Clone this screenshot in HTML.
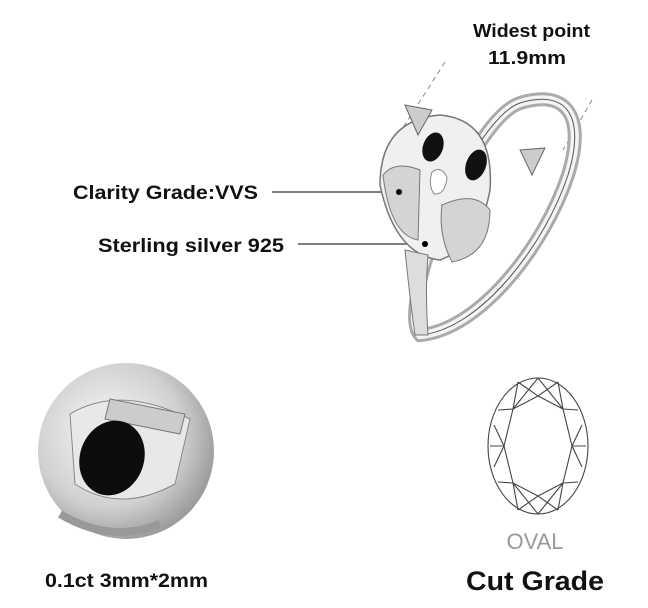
<!DOCTYPE html>
<html><head><style>
body{margin:0;width:648px;height:603px;background:#fff;overflow:hidden;font-family:"Liberation Sans",sans-serif}
</style></head><body>
<svg width="648" height="603" viewBox="0 0 648 603" xmlns="http://www.w3.org/2000/svg">
<defs>
<radialGradient id="g1" cx="0.4" cy="0.4" r="0.7"><stop offset="0" stop-color="#fafafa"/><stop offset="0.6" stop-color="#d0d0d0"/><stop offset="1" stop-color="#8a8a8a"/></radialGradient>
</defs>
<g font-family="Liberation Sans, sans-serif" font-weight="bold" fill="#111">
<text x="473" y="37" font-size="18.5" textLength="117" lengthAdjust="spacingAndGlyphs">Widest point</text>
<text x="488" y="64" font-size="18.5" textLength="78" lengthAdjust="spacingAndGlyphs">11.9mm</text>
<text x="73" y="199" font-size="19" textLength="185" lengthAdjust="spacingAndGlyphs">Clarity Grade:VVS</text>
<text x="98" y="252" font-size="19" textLength="186" lengthAdjust="spacingAndGlyphs">Sterling silver 925</text>
<text x="45" y="587" font-size="19" textLength="163" lengthAdjust="spacingAndGlyphs">0.1ct 3mm*2mm</text>
<text x="466" y="590" font-size="27" textLength="138" lengthAdjust="spacingAndGlyphs">Cut Grade</text>
</g>
<text x="535" y="549" font-size="22" fill="#999" text-anchor="middle" font-family="Liberation Sans, sans-serif">OVAL</text>
<line x1="272" y1="192" x2="398" y2="192" stroke="#333" stroke-width="1.2"/>
<line x1="298" y1="244" x2="425" y2="244" stroke="#333" stroke-width="1.2"/>
<line x1="445" y1="62" x2="392" y2="145" stroke="#888" stroke-dasharray="5,4"/>
<line x1="592" y1="100" x2="563" y2="150" stroke="#888" stroke-dasharray="5,4"/>
<path d="M420 335 C395 310 470 120 520 103 C570 88 585 120 568 175 C545 245 480 330 420 335 Z" fill="none" stroke="#aaa" stroke-width="14"/>
<path d="M420 335 C395 310 470 120 520 103 C570 88 585 120 568 175 C545 245 480 330 420 335 Z" fill="none" stroke="#f4f4f4" stroke-width="8"/>
<path d="M420 335 C395 310 470 120 520 103 C570 88 585 120 568 175 C545 245 480 330 420 335 Z" fill="none" stroke="#555" stroke-width="1"/>
<path d="M380 185 Q380 120 440 115 Q495 120 490 190 Q480 245 440 260 Q395 255 380 185Z" fill="#f0f0f0" stroke="#777" stroke-width="1.5"/>
<path d="M383 175 Q395 160 420 170 L418 240 Q390 235 383 175Z" fill="#d4d4d4" stroke="#777"/>
<path d="M442 205 Q475 190 490 210 Q490 255 452 262 Q438 235 442 205Z" fill="#d4d4d4" stroke="#777"/>
<path d="M405 250 Q410 300 415 335 L428 335 Q425 290 428 255Z" fill="#ddd" stroke="#777"/>
<path d="M405 105 L432 110 L418 135 Z" fill="#ccc" stroke="#666"/>
<path d="M520 150 L545 148 L532 175 Z" fill="#ccc" stroke="#666"/>
<ellipse cx="433" cy="147" rx="10" ry="15" fill="#111" transform="rotate(20 433 147)"/>
<ellipse cx="476" cy="165" rx="10" ry="16" fill="#111" transform="rotate(20 476 165)"/>
<path d="M432 172 Q442 165 447 178 Q445 195 434 194 Q428 185 432 172Z" fill="#fff" stroke="#888"/>
<circle cx="399" cy="192" r="3" fill="#000"/>
<circle cx="425" cy="244" r="3" fill="#000"/>
<circle cx="126" cy="451" r="88" fill="url(#g1)"/>
<path d="M70 414 Q120 384 190 419 L175 484 Q120 514 75 484Z" fill="#e8e8e8" stroke="#888"/>
<path d="M110 399 L185 414 L180 434 L105 419Z" fill="#ccc" stroke="#777"/>
<ellipse cx="112" cy="458" rx="32" ry="38" fill="#0d0d0d" transform="rotate(20 112 458)"/>
<path d="M60 514 Q110 544 160 524" fill="none" stroke="#999" stroke-width="8"/>
<g fill="none" stroke="#444" stroke-width="1.1">
<ellipse cx="538" cy="446" rx="50" ry="68"/>
<polygon points="538,396 563,409 572,446 563,483 538,496 513,483 504,446 513,409"/>
<path d="M538,378 L513,409 M538,378 L563,409 M498,410 L513,409 M578,410 L563,409 M490,446 L504,446 M586,446 L572,446 M498,482 L513,483 M578,482 L563,483 M538,514 L513,483 M538,514 L563,483 M518,382 L538,396 L558,382 M494,425 L504,446 L494,467 M582,425 L572,446 L582,467 M518,510 L538,496 L558,510 M518,382 L513,409 M558,382 L563,409 M518,510 L513,483 M558,510 L563,483"/>
</g>
</svg>
</body></html>
